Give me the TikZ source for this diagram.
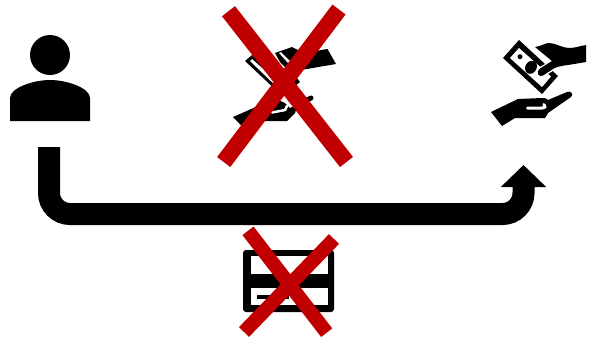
\documentclass[tikz,border=0pt]{standalone}
\usetikzlibrary{arrows.meta}
\definecolor{crossred}{HTML}{C00000}
\tikzset{
  icon/.style={fill=black,draw=none},
  gap/.style={fill=white,draw=none},
  bigcross/.style={draw=crossred,line width=16.5pt},
  smallcross/.style={draw=crossred,line width=14pt},
  flowarrow/.style={draw=black,line width=22pt,rounded corners=21pt,-{Triangle[length=22pt,width=44pt]}},
}
\begin{document}
\begin{tikzpicture}[x=1pt,y=-1pt]
\useasboundingbox (0,0) rectangle (595,341);
% person
\fill[icon] (50,55) circle[radius=20];
\fill[icon] (10,121) -- (10,98) .. controls (10,88) and (33,80) .. (50,80)
  .. controls (67,80) and (90,88) .. (90,98) -- (90,121) -- cycle;
% flow arrow
\coordinate (flowstart) at (49,147);
\coordinate (flowend) at (523.5,165);
\draw[flowarrow] (flowstart) -- (49,214) -- (523.5,214) -- (flowend);
% top icon: cash in hands (crossed out)
\fill[icon] (245,61) -- (252,55) -- (285,85) -- (278,92) -- cycle;
\fill[gap] (250,61) -- (252,59) -- (280,84) -- (277,87) -- cycle;
\fill[icon] (275,53) -- (292,47) -- (298,50) -- (303,53) -- (327.5,49) -- (336,64) -- (301,70) -- (294,76) -- (280,62) -- cycle;
\fill[gap] (279,53) -- (281,52) -- (290,61) -- (288,63) -- cycle;
\fill[icon] (290,80) -- (297,78) -- (300,82) -- (295,86) -- cycle;
\fill[icon] (233,117) -- (265,103) -- (278,100) -- (285,103) -- (290,108) -- (298,104) -- (295,113) -- (287,121) -- (263,121) -- (242,126) -- cycle;
\draw[black,line width=5pt,line cap=round] (296,106) -- (311,98);
\draw[white,line width=2.5pt,line cap=round] (272,112.5) -- (285,110) -- (287,106);
% right icon: cash in hands
\fill[icon] (503,58) -- (519,40) -- (558,76) -- (542,94) -- cycle;
\fill[gap] (510,58) -- (519,48) -- (551,76.5) -- (542,87) -- cycle;
\fill[icon] (520,56.7) circle[radius=2.5];
\fill[icon] (531,67.3) ellipse[x radius=5.6,y radius=6.8,rotate=-30];
\path[fill=white,draw=white,line width=3pt,line join=round]
  (535,47) -- (552,62) -- (540,68.5) .. controls (535,72) and (539,78) .. (543,75.5) -- (553,69) -- (568,65) -- (560,50) -- cycle;
\fill[icon]
  (535,47) .. controls (542,46) and (545,43) .. (549,43) .. controls (556,43) and (562,48) .. (569,48)
  .. controls (575,48) and (580,46) .. (586,45) -- (586,62) -- (568,65)
  .. controls (560,66) and (556,67) .. (553,69) -- (543,75.5) .. controls (539,78) and (535,72) .. (540,68.5)
  -- (552,61) -- cycle;
\fill[icon] (491,112) -- (518,99) -- (542,98) .. controls (546,98) and (548,99) .. (548,100)
  -- (567,92) .. controls (571,90) and (574,95) .. (571,97) -- (548,113) -- (545,118) -- (515,118) -- (502,126) -- cycle;
\draw[white,line width=3pt,line cap=round] (527.5,108) -- (542,108) .. controls (545,108) and (546,106) .. (544,104.5);
% card
\fill[icon,rounded corners=3pt] (243,250) rectangle (334,312);
\fill[gap] (250.5,256) rectangle (327.5,274);
\fill[gap] (250.5,288) rectangle (327.5,305);
\fill[icon] (257,295) rectangle (289,299);
% crosses
\coordinate (topa) at (228.5,11.2);
\coordinate (topb) at (346.5,162);
\coordinate (topc) at (339,9.5);
\coordinate (topd) at (223.7,162);
\draw[bigcross] (topa) -- (topb);
\draw[bigcross] (topc) -- (topd);
\coordinate (cardcrossa) at (248,230.8);
\coordinate (cardcrossb) at (326.7,332.7);
\coordinate (cardcrossc) at (334,239);
\coordinate (cardcrossd) at (244,332);
\draw[smallcross] (cardcrossa) -- (cardcrossb);
\draw[smallcross] (cardcrossc) -- (cardcrossd);
\end{tikzpicture}
\end{document}
